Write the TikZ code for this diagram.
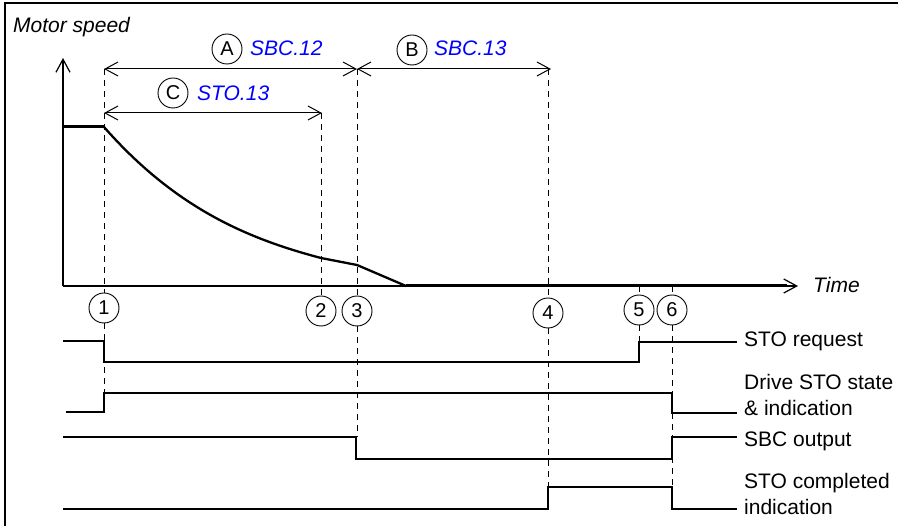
\documentclass[tikz,border=0pt]{standalone}
\usepackage{fontspec}
\setmainfont{Liberation Sans}
\usetikzlibrary{arrows.meta}
\tikzset{
	event/.style={circle,draw,fill=white,inner sep=0pt,minimum size=30pt,line width=0.9pt,font=\fontsize{20}{20}\selectfont},
	guide/.style={dash pattern=on 6pt off 5pt,line width=0.9pt},
	trace/.style={line width=1.3pt},
	lbl/.style={anchor=west,inner sep=0pt,align=left,font=\fontsize{21}{25.5}\selectfont},
	param/.style={anchor=west,inner sep=0pt,text=blue,font=\fontsize{21}{25}\selectfont\itshape}
}
\begin{document}
\begin{tikzpicture}[x=1pt,y=-1pt,>={Straight Barb[length=13pt,width=14pt]}]
			\useasboundingbox (0,0) rectangle (898,526);
			\draw [line width=1.4pt] (5,526) -- (5,3) -- (898,3);
			\draw [->,line width=1.2pt] (63,286) -- (63,58);
			\draw [->,line width=1.2pt] (63,286) -- (798,286);
			\node [lbl,font=\fontsize{21}{25}\selectfont\itshape] (speed) at (13,27) {Motor speed};
			\node [lbl,font=\fontsize{21}{25}\selectfont\itshape] (time) at (813,285) {Time};
			\draw [line width=3pt] (63,127) -- (104,127);
			\draw [line width=2.3pt,line join=round] (104,127) .. controls (176,209) and (249,239) .. (321,258) -- (357,265) -- (406,286);
			\draw [line width=3pt] (406,286) -- (787,286);
			\draw [<->,line width=1pt] (104,69) -- (357,69);
			\draw [<->,line width=1pt] (357,69) -- (551,69);
			\draw [<->,line width=1pt] (104,113) -- (322,113);
			\node [event] (A) at (227,49) {A};
			\node [param] (sbc12) at (250,48) {SBC.12};
			\node [event] (B) at (412,50) {B};
			\node [param] (sbc13) at (434,48) {SBC.13};
			\node [event] (C) at (173,93) {C};
			\node [param] (sto13) at (197,93) {STO.13};
			\node [event] (e1) at (104,308) {1};
			\node [event] (e2) at (321,311) {2};
			\node [event] (e3) at (357,311) {3};
			\node [event] (e4) at (548,313) {4};
			\node [event] (e5) at (639,310) {5};
			\node [event] (e6) at (672,310) {6};
			\draw [guide] (104,69) -- (e1.north) (e1.south) -- (104,393);
			\draw [guide] (321,113) -- (e2.north);
			\draw [guide] (357,69) -- (e3.north) (e3.south) -- (357,437);
			\draw [guide] (548,69) -- (e4.north) (e4.south) -- (548,487);
			\draw [guide] (639,286) -- (e5.north) (e5.south) -- (639,342);
			\draw [guide] (672,286) -- (e6.north) (e6.south) -- (672,487);
			\node [lbl] (req) at (744,341) {STO request};
			\node [lbl] (drv) at (744,395) {Drive STO state\\\& indication};
			\node [lbl] (sbc) at (744,441) {SBC output};
			\node [lbl] (done) at (744,494) {STO completed\\indication};
			\draw [trace] (63,341) -| (104,362) -| (639,342) -- (737,342);
			\draw [trace] (66,412) -| (104,393) -| (672,413) -- (737,413);
			\draw [trace] (63,437) -| (356,459) -| (672,437) -- (737,437);
			\draw [trace] (63,509) -| (548,487) -| (672,509) -- (737,509);
\end{tikzpicture}
\end{document}
